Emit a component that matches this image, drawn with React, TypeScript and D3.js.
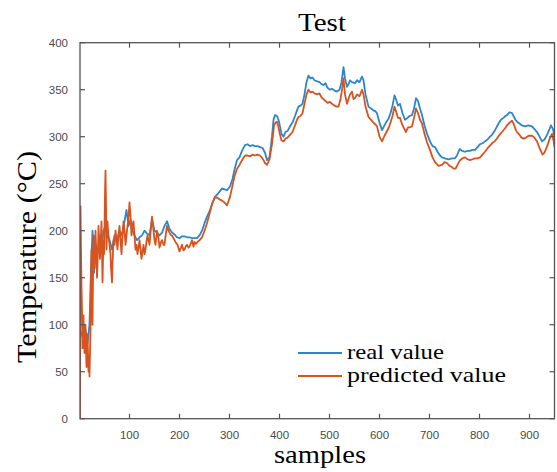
import React from "react";
import * as d3 from "d3";

const realSamples = [1,4,8,12,16,20,23,26,29,32,36,40,44,48,52,56,60,65,70,75,80,85,90,94,98,102,106,110,115,120,125,130,135,140,145,150,155,160,165,170,175,180,185,190,195,200,205,210,215,220,225,230,235,240,245,250,255,261,266,271,276,281,285,290,295,301,306,310,315,320,325,331,336,341,346,351,356,361,366,371,375,380,385,388,391,395,398,401,404,408,412,416,421,426,431,435,438,442,446,450,454,458,462,466,470,475,480,484,488,492,496,501,505,510,515,520,524,528,531,535,538,541,545,551,555,560,565,568,572,578,583,588,592,595,600,605,610,614,618,622,626,630,633,637,641,646,651,656,660,665,669,673,677,681,685,690,695,701,706,711,716,721,725,731,738,745,751,755,758,761,765,771,776,781,786,791,796,801,806,811,816,821,825,830,834,838,843,848,852,855,860,865,868,872,875,880,885,891,898,905,910,915,920,925,930,935,940,943,947,950];
const realValues = [95,90,85,95,80,100,160,200,155,185,175,195,180,200,205,195,190,180,195,190,200,195,210,222,205,212,200,195,190,193,195,200,197,195,212,200,198,195,198,205,210,202,198,196,193,192,194,194,193,193,192,192,192,195,200,208,215,222,230,236,239,242,245,244,243,247,255,265,275,278,285,291,292,290,291,290,290,289,288,283,275,278,300,318,323,322,318,311,303,300,305,306,311,315,322,328,332,333,335,345,358,365,362,363,360,359,358,356,355,357,352,350,351,349,348,350,358,374,362,353,356,360,358,357,360,358,364,360,345,332,330,328,327,325,315,307,312,316,319,325,333,344,340,333,335,325,318,320,322,323,330,341,338,330,323,312,303,295,290,289,284,280,278,277,276,277,277,280,284,287,285,284,285,285,286,286,289,292,293,295,297,300,302,306,310,314,318,320,322,323,326,325,322,318,316,314,312,311,312,311,308,305,300,295,297,302,308,312,308,300];

const predSamples = [1,2,3,4,5,6,7,8,9,10,11,12,13,14,15,16,17,18,19,20,21,22,23,24,25,26,27,28,29,30,31,32,33,35,37,38,40,41,43,44,45,46,47,48,49,50,51,52,53,54,55,56,57,58,60,62,63,65,66,68,70,72,74,76,78,80,82,84,86,88,90,92,94,96,98,100,102,104,106,108,110,112,114,116,118,120,122,124,126,128,130,132,134,136,138,140,142,145,147,150,152,155,158,160,163,165,168,170,173,175,178,180,183,185,188,190,193,196,200,203,205,208,210,213,215,218,220,223,225,228,230,233,236,240,245,250,255,260,265,271,276,281,285,290,295,301,306,310,315,320,325,331,336,341,346,351,356,361,366,371,375,380,385,389,392,395,398,401,404,408,412,416,421,426,431,435,438,442,446,450,454,458,462,466,470,475,480,484,488,492,496,501,505,510,515,518,522,525,528,531,535,538,541,545,548,551,555,560,565,568,572,578,583,588,592,595,600,605,610,614,618,622,626,630,633,637,641,646,653,657,661,665,669,673,677,681,685,690,695,701,706,711,718,725,730,735,740,744,748,752,756,761,766,771,776,781,786,791,796,801,806,811,818,825,830,835,840,845,851,855,860,865,868,872,875,880,884,888,893,898,905,910,915,920,926,930,936,941,945,948,950];
const predValues = [0,226,180,140,115,75,100,110,85,70,95,100,75,55,85,90,70,50,65,45,70,95,150,180,140,100,150,195,190,160,175,200,185,150,180,205,185,170,195,210,180,145,170,190,175,200,240,264,230,180,195,210,200,195,185,175,160,145,165,190,185,200,190,180,195,205,190,175,195,210,200,185,195,205,215,230,215,195,205,210,195,180,185,175,182,190,180,170,178,185,175,180,188,195,190,185,198,215,205,190,185,200,192,182,188,190,185,185,198,205,200,198,195,195,192,190,187,185,178,182,185,179,180,184,185,182,183,187,190,183,188,186,188,190,193,200,208,218,228,236,235,233,232,230,227,236,248,258,266,270,275,280,280,279,281,280,281,280,277,272,270,276,292,312,315,316,310,302,296,295,298,299,302,305,312,318,321,322,325,335,345,350,347,348,346,345,346,342,340,338,336,337,335,333,332,332,340,350,362,345,335,340,345,348,340,341,345,343,350,345,332,321,318,315,313,311,300,295,301,305,309,315,322,332,327,320,320,312,305,310,310,311,320,330,325,318,314,303,294,286,278,273,269,270,273,272,269,268,266,266,270,275,277,278,276,275,276,277,277,278,281,284,289,293,295,298,302,305,309,312,315,317,314,308,305,302,299,298,299,301,301,299,295,288,281,283,291,299,303,296,289];

const xTicks = [100,200,300,400,500,600,700,800,900];
const yTicks = [0,50,100,150,200,250,300,350,400];

const W = 557, H = 472;
const L = 80, R = 554.5, T = 42.7, B = 418.7;

export default function App() {
  const x = d3.scaleLinear().domain([1, 950]).range([L, R]);
  const y = d3.scaleLinear().domain([0, 400]).range([B, T]);
  const realLine = d3.line<number>().x((_, i) => x(realSamples[i])).y((d) => y(d));
  const predLine = d3.line<number>().x((_, i) => x(predSamples[i])).y((d) => y(d));
  const blue = "#2b86cf";
  const orange = "#d9531e";
  const axisColor = "#555";
  const tl = 5;
  return (
    <svg width={W} height={H} style={{ position: "absolute", left: 0, top: 0, background: "#fff" }}>
      <rect x={0} y={0} width={W} height={H} fill="#fff" />
      <defs>
        <clipPath id="clip"><rect x={L} y={T} width={R - L} height={B - T} /></clipPath>
      </defs>
      <g clipPath="url(#clip)">
        <path d={realLine(realValues) || ""} fill="none" stroke={blue} strokeWidth={1.8} strokeLinejoin="round" />
        <path d={predLine(predValues) || ""} fill="none" stroke={orange} strokeWidth={1.8} strokeLinejoin="round" />
      </g>
      <rect x={L} y={T} width={R - L} height={B - T} fill="none" stroke={axisColor} strokeWidth={1.3} />
      {xTicks.map((t) => (
        <g key={"x" + t}>
          <line x1={x(t)} x2={x(t)} y1={B} y2={B - tl} stroke={axisColor} strokeWidth={1.2} />
          <line x1={x(t)} x2={x(t)} y1={T} y2={T + tl} stroke={axisColor} strokeWidth={1.2} />
          <text x={x(t)} y={439} textAnchor="middle" fontFamily="Liberation Sans, Arial, sans-serif" fontSize={11.5} fill="#4a4a4a">{t}</text>
        </g>
      ))}
      {yTicks.map((t) => (
        <g key={"y" + t}>
          <line x1={L} x2={L + tl} y1={y(t)} y2={y(t)} stroke={axisColor} strokeWidth={1.2} />
          <line x1={R} x2={R - tl} y1={y(t)} y2={y(t)} stroke={axisColor} strokeWidth={1.2} />
          <text x={68} y={y(t) + 4} textAnchor="end" fontFamily="Liberation Sans, Arial, sans-serif" fontSize={11.5} fill="#4a4a4a">{t}</text>
        </g>
      ))}
      <text x={322} y={31} textAnchor="middle" fontFamily="Liberation Serif, Times New Roman, serif" fontSize={26} textLength={48} lengthAdjust="spacingAndGlyphs" fill="#000">Test</text>
      <text x={320} y={463} textAnchor="middle" fontFamily="Liberation Serif, Times New Roman, serif" fontSize={25} textLength={92} lengthAdjust="spacingAndGlyphs" fill="#000">samples</text>
      <text transform="translate(36,257) rotate(-90)" textAnchor="middle" fontFamily="Liberation Serif, Times New Roman, serif" fontSize={28} textLength={212} lengthAdjust="spacingAndGlyphs" fill="#000">Temperature (°C)</text>
      <line x1={298} x2={342} y1={353} y2={353} stroke={blue} strokeWidth={1.8} />
      <line x1={298} x2={342} y1={376} y2={376} stroke={orange} strokeWidth={1.8} />
      <text x={347} y={359} fontFamily="Liberation Serif, Times New Roman, serif" fontSize={22} textLength={97} lengthAdjust="spacingAndGlyphs" fill="#000">real value</text>
      <text x={347} y={382} fontFamily="Liberation Serif, Times New Roman, serif" fontSize={22} textLength={159} lengthAdjust="spacingAndGlyphs" fill="#000">predicted value</text>
    </svg>
  );
}
